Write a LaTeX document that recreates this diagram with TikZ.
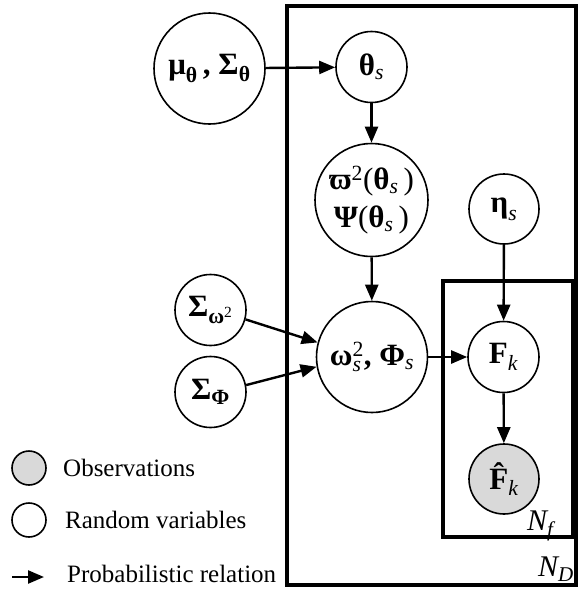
\documentclass[tikz,border=0pt]{standalone}
\usepackage{amsmath}
\usepackage{fontspec}
\setmainfont{Liberation Serif}
\usetikzlibrary{arrows.meta}

% variable with italic subscript, with bold subscript
\newcommand{\vs}[2]{\ensuremath{\text{#1}_{\text{\mdseries\itshape #2}}}}
\newcommand{\vb}[2]{\ensuremath{\text{#1}_{\text{#2}}}}
\newcommand{\md}[1]{\textmd{#1}}

\tikzset{
  rv/.style={circle,draw,line width=1.6pt,inner sep=0pt,minimum size=#1,
    font=\fontsize{31}{36}\selectfont\bfseries},
  rv/.default=71pt,
  obs/.style={rv=#1,fill=gray!30},
  obs/.default=71pt,
  rel/.style={line width=2.4pt,-{Triangle[length=16pt,width=13pt]}},
  plate/.style={draw,line width=4pt},
  platelabel/.style={font=\fontsize{30}{30}\selectfont\itshape,anchor=base west,inner sep=0pt},
  legend/.style={font=\fontsize{25}{27}\selectfont,anchor=west,inner sep=0pt}
}

\begin{document}
\begin{tikzpicture}[x=1pt,y=-1pt]
\useasboundingbox (0,0) rectangle (579,592);

% plates
\draw[plate] (287,6) rectangle (576,585);
\draw[plate] (443,281) rectangle (573,537);
\node[platelabel] (nf) at (527,530) {\vs{N}{f}};
\node[platelabel] (nd) at (538,576) {\vs{N}{D}};

% nodes
\node[rv=111pt] (musig) at (209.5,68.5) {\vb{μ}{θ}\,, \vb{Σ}{θ}};
\node[rv] (theta) at (371.5,67) {\vs{θ}{s}};
\node[rv=113pt,align=center] (varpi) at (371.5,200)
  {\ensuremath{\text{ϖ}^{\md{2}}}\md{(}\vs{θ}{s}\,\md{)}\\[2pt]Ψ\md{(}\vs{θ}{s}\,\md{)}};
\node[rv=111pt] (omega) at (372,357) {\ensuremath{\text{ω}^{\md{2}}_{\md{\itshape s}}}, \vs{Φ}{s}};
\node[rv] (somega) at (210.5,310) {\ensuremath{\text{Σ}_{\text{ω}^{\md{2}}}}};
\node[rv] (sphi) at (210.5,392) {\vb{Σ}{Φ}};
\node[rv=70pt] (eta) at (504,209) {\vs{η}{s}};
\node[rv] (fk) at (503.5,357) {\vs{F}{k}};
\node[obs=70pt] (fhat) at (504,479) {\vs{\^{F}}{k}};

% relations
\draw[rel] (musig) -- (theta);
\draw[rel] (theta) -- (varpi);
\draw[rel] (varpi) -- (omega);
\draw[rel] (somega.-15) -- (omega.165);
\draw[rel] (sphi.11) -- (omega.190);
\draw[rel] (omega) -- (fk);
\draw[rel] (eta) -- (fk);
\draw[rel] (fk) -- (fhat);

% legend
\node[obs=34pt] (lobs) at (29,468) {};
\node[legend] (tobs) at (63,468) {Observations};
\node[rv=34pt] (lrv) at (29,520) {};
\node[legend] (trv) at (65,520) {Random variables};
\coordinate (la) at (12,577);
\coordinate (lb) at (44,577);
\draw[rel] (la) -- (lb);
\node[legend] (trel) at (67,574) {Probabilistic relation};
\end{tikzpicture}
\end{document}
